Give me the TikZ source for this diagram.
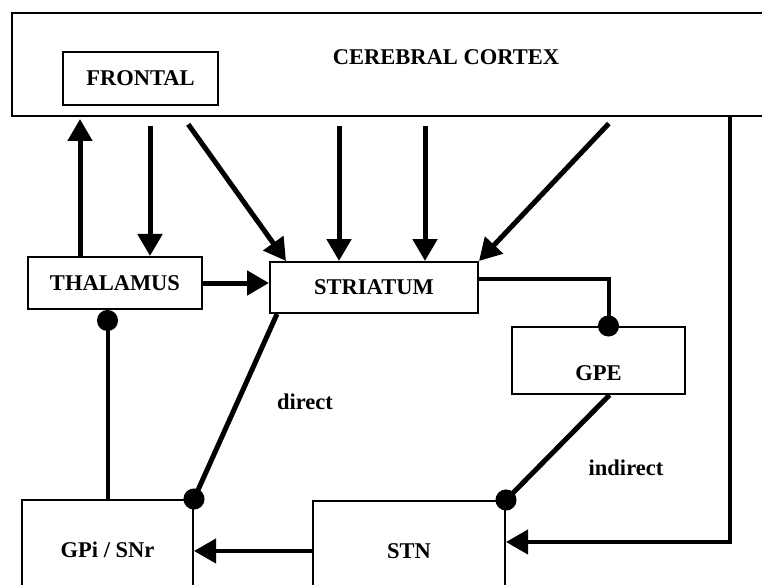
\documentclass[tikz,border=0pt]{standalone}
\usepackage{fontspec}
\setmainfont{Liberation Serif}
\usetikzlibrary{arrows.meta}

\begin{document}
\begin{tikzpicture}[
    x=1pt, y=-1pt,
    box/.style={draw, line width=2pt, inner sep=0pt,
      font=\fontsize{22.5}{27}\selectfont\bfseries},
    lbl/.style={font=\fontsize{22.5}{27}\selectfont\bfseries},
    arr/.style={line width=5pt, -{Triangle[length=22pt, width=24pt]}},
    inh/.style={line width=5pt, -{Circle[length=21pt]}, shorten >=-10.5pt},
    fromctx/.style={shorten <=9pt}
  ]
  \useasboundingbox (0,0) rectangle (762,585);
  \clip (0,0) rectangle (762,585);

  % boxes
  \node [box, minimum width=788pt, minimum height=103pt,
    label={[lbl, xshift=40pt, yshift=7.5pt]center:CEREBRAL CORTEX}] (cortex) at (406,64.5) {};
  \node [box, minimum width=155pt, minimum height=53pt] (frontal) at (140.5,78.5) {FRONTAL};
  \node [box, minimum width=174pt, minimum height=52pt] (thalamus) at (115,283) {THALAMUS};
  \node [box, minimum width=208pt, minimum height=51pt] (striatum) at (374,287.5) {STRIATUM};
  \node [box, minimum width=173pt, minimum height=67pt,
    label={[lbl, yshift=-12.5pt]center:GPE}] (gpe) at (598.5,360.5) {};
  \node [box, minimum width=171pt, minimum height=100pt] (gpi) at (107.5,550) {GPi / SNr};
  \node [box, minimum width=192pt, minimum height=100pt] (stn) at (409,551) {STN};

  % path labels
  \node [lbl] (direct) at (305,402) {direct};
  \node [lbl] (indirect) at (626,468) {indirect};

  % cortex <-> thalamus
  \coordinate (thup) at ([xshift=-35pt]thalamus.north);
  \draw [arr, shorten >=2pt] (thup) -- (thup |- cortex.south);
  \coordinate (thdown) at ([xshift=35pt]thalamus.north);
  \draw [arr, fromctx] (thdown |- cortex.south) -- (thdown);

  % cortex -> striatum
  \draw [arr, fromctx] ([xshift=-223pt]cortex.south) -- ([xshift=17pt]striatum.north west);
  \draw [arr, fromctx] ([xshift=-67pt]cortex.south) -- ([xshift=-35pt]striatum.north);
  \draw [arr, fromctx] ([xshift=19pt]cortex.south) -- ([xshift=51pt]striatum.north);
  \draw [arr, fromctx] ([xshift=209pt]cortex.south) -- (striatum.north east);

  % thalamus -> striatum
  \draw [arr] (thalamus.east) -- (thalamus.east -| striatum.west);

  % striatum -> gpe, gpi
  \draw [inh, line width=4pt] ([yshift=9pt]striatum.east) -| ([xshift=10pt]gpe.north);
  \draw [inh] ([xshift=8pt]striatum.south west) -- (gpi.north east);

  % gpe -> stn
  \draw [inh] ([xshift=11pt]gpe.south) -- (stn.north east);

  % stn -> gpi, gpi -> thalamus
  \draw [arr, line width=4pt] (stn.west) -- (stn.west -| gpi.east);
  \draw [line width=4pt, -{Circle[length=21pt]}] (gpi.north) -- (gpi.north |- thalamus.south);

  % cortex -> stn
  \draw [arr, line width=4pt] ([xshift=324pt]cortex.south) |- ([yshift=9pt]stn.east);
\end{tikzpicture}
\end{document}
